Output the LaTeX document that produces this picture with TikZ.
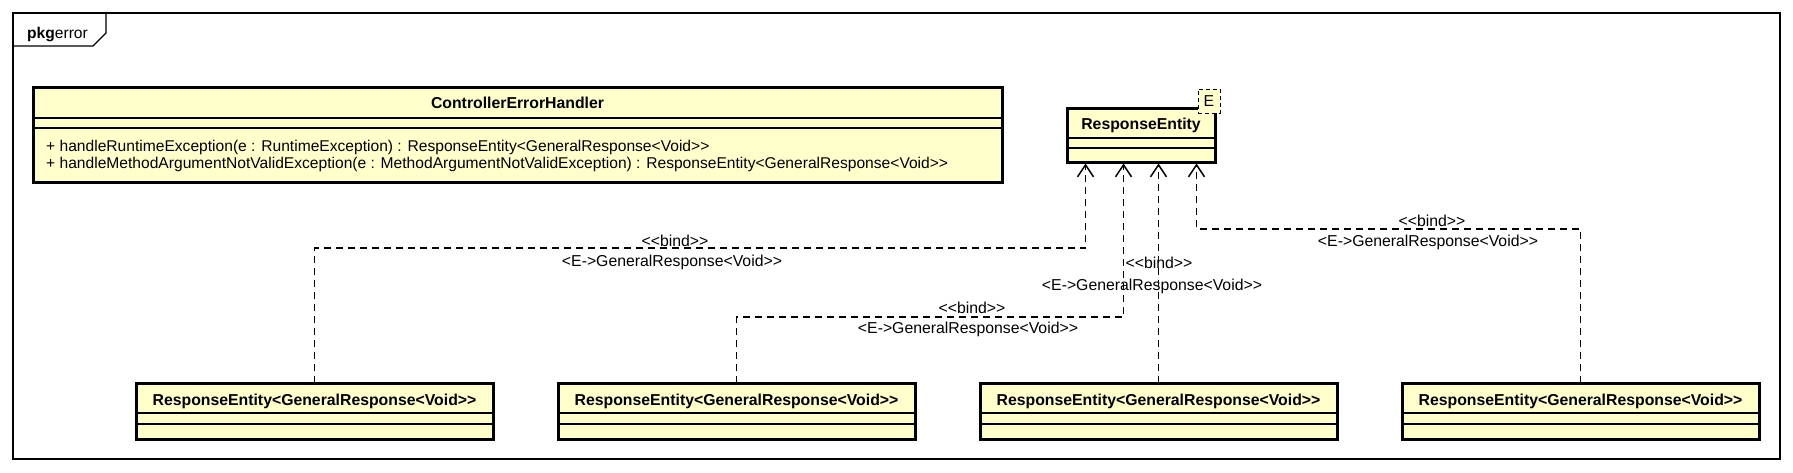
\documentclass[tikz,border=0pt]{standalone}
\usepackage{fontspec}
\setmainfont{Liberation Sans}[Ligatures=TeXOff]
\usepackage{xcolor}
\definecolor{clsfill}{HTML}{FFFFCC}
\definecolor{ink}{HTML}{000000}
\usepackage{tikz}
\usetikzlibrary{arrows.meta,positioning,fit,calc}
\newcommand{\umlsize}{\fontsize{15.8}{18}\selectfont}
\newcommand{\opsize}{\fontsize{15.6}{18}\selectfont}

\begin{document}
\begin{tikzpicture}[
  x=1pt, y=-1pt,
  pkgframe/.style={
    rectangle, draw=ink, line width=1.3pt, inner sep=0pt, outer sep=0pt
  },
  pkgline/.style={draw=ink, line width=1.3pt},
  clsbox/.style={
    rectangle, draw=ink, fill=clsfill, line width=3pt,
    inner sep=0pt, outer sep=0pt
  },
  clsname/.style={font=\umlsize\bfseries, inner sep=0pt},
  member/.style={font=\opsize, inner sep=0pt, anchor=west},
  sepline/.style={draw=ink, line width=1.3pt},
  tparam/.style={
    rectangle, draw=ink, dash pattern=on 4pt off 3pt, fill=clsfill,
    line width=1pt, minimum width=22pt, minimum height=24pt,
    inner sep=0pt, font=\umlsize
  },
  bind/.style={
    draw=ink, line width=1.5pt, dash pattern=on 7pt off 5pt,
    -{Straight Barb[length=12pt, width=16pt]}
  },
  lbl/.style={font=\umlsize, inner sep=0pt}
]

\path[use as bounding box, fill=white] (0,0) rectangle (1793,472);

\node[pkgframe, fit={(13,13) (1780,459)}] (pkg) {};
\draw[pkgline] ($(pkg.north west)+(0,33)$) -- ($(pkg.north west)+(80,33)$)
  -- ($(pkg.north west)+(93,20)$) -- ($(pkg.north west)+(93,0)$);
\node[member] (pkg-name) at ($(pkg.north west)+(14,21)$) {\textbf{pkg}error};

\node[clsbox, fit={(33,87) (1002,182)}] (ceh) {};
\node[clsname] (ceh-name) at ($(ceh.north)+(0,16)$) {ControllerErrorHandler};
\draw[sepline] ($(ceh.north west)+(0,31)$) -- ($(ceh.north east)+(0,31)$);
\draw[sepline] ($(ceh.north west)+(0,41)$) -- ($(ceh.north east)+(0,41)$);
\node[member] (ceh-m1) at ($(ceh.north west)+(13,60)$) {+ handleRuntimeException(e : RuntimeException) : ResponseEntity<GeneralResponse<Void>>};
\node[member] (ceh-m2) at ($(ceh.north west)+(13,77)$) {+ handleMethodArgumentNotValidException(e : MethodArgumentNotValidException) : ResponseEntity<GeneralResponse<Void>>};

\node[clsbox, fit={(1067,108) (1215,162)}] (re) {};
\node[clsname] (re-name) at ($(re.north)+(0,17)$) {ResponseEntity};
\draw[sepline] ($(re.north west)+(0,30)$) -- ($(re.north east)+(0,30)$);
\draw[sepline] ($(re.north west)+(0,40)$) -- ($(re.north east)+(0,40)$);
\node[tparam] (re-e) at (1209,101) {E};

\foreach \k/\dx in {1/-55.5, 2/-17.5, 3/17.5, 4/55.5}
  \coordinate (re-in\k) at ($(re.south)+(\dx,1.5)$);

\foreach \i/\x in {1/136, 2/558, 3/980, 4/1402} {
  \node[clsbox, fit={(\x,383) (\x+357,439)}] (rev\i) {};
  \node[clsname] (rev\i-name) at ($(rev\i.north)+(0,18)$) {ResponseEntity<GeneralResponse<Void>>};
  \draw[sepline] ($(rev\i.north west)+(0,30)$) -- ($(rev\i.north east)+(0,30)$);
  \draw[sepline] ($(rev\i.north west)+(0,41)$) -- ($(rev\i.north east)+(0,41)$);
}

\foreach \i/\dy in {1/84.5, 2/153.5, 3/100, 4/65.5}
  \draw[bind] (rev\i.north) |- ($(re-in\i)+(0,\dy)$) -- (re-in\i);

\foreach \i/\bx/\by/\tx/\ty in {1/675/241/672/262, 2/972/308/968/329, 3/1159/263/1152/286, 4/1432/221/1428/242} {
  \node[lbl] (bind\i) at (\bx,\by) {<<bind>>};
  \node[lbl] (targ\i) at (\tx,\ty) {<E->GeneralResponse<Void>>};
}

\end{tikzpicture}
\end{document}
